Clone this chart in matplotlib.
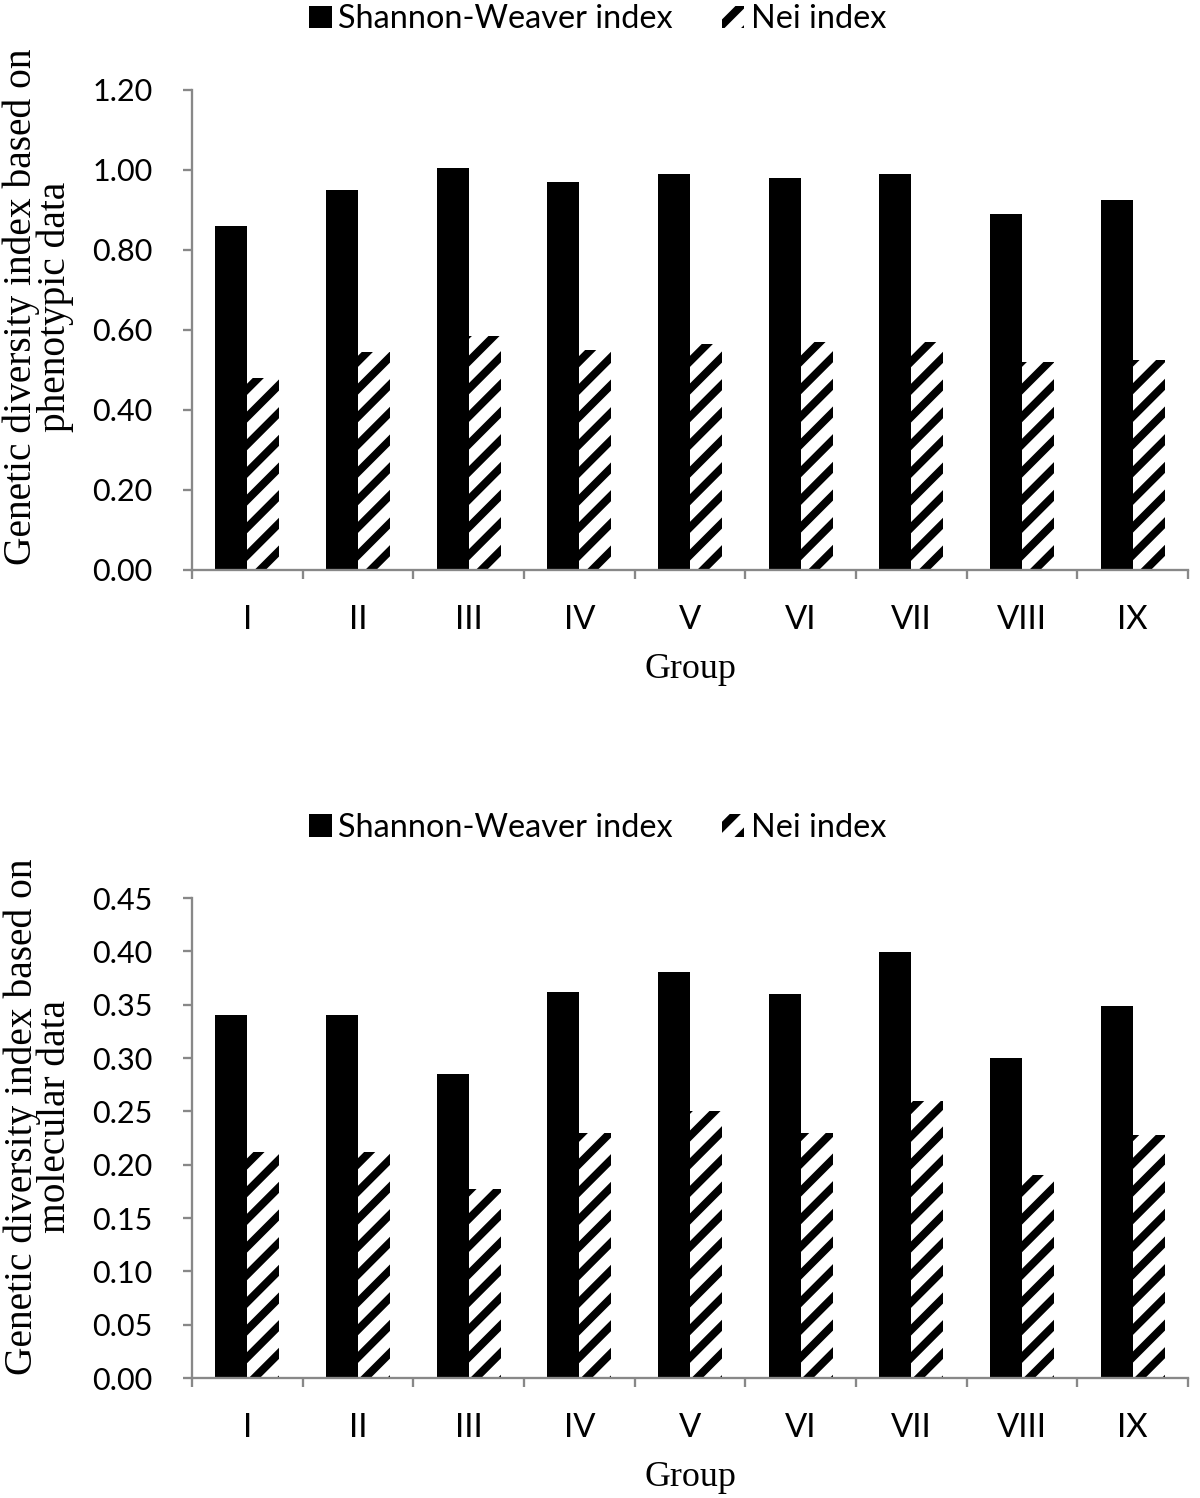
import numpy as np
import matplotlib.pyplot as plt

groups = ["I", "II", "III", "IV", "V", "VI", "VII", "VIII", "IX"]
pheno_shannon = [0.86, 0.95, 1.005, 0.97, 0.99, 0.98, 0.99, 0.89, 0.925]
pheno_nei = [0.48, 0.545, 0.585, 0.55, 0.565, 0.57, 0.57, 0.52, 0.525]
mol_shannon = [0.340, 0.340, 0.285, 0.362, 0.381, 0.360, 0.399, 0.300, 0.349]
mol_nei = [0.212, 0.212, 0.177, 0.230, 0.250, 0.230, 0.260, 0.190, 0.228]

plt.rcParams['hatch.linewidth'] = 3.4
sans = ['Lato', 'DejaVu Sans']
serif = ['Liberation Serif', 'DejaVu Serif']
axis_grey = '#888888'

dpi = 1200 / 7.2
fig = plt.figure(figsize=(7.2, 1498 / dpi), dpi=dpi)

panels = [
    (pheno_shannon, pheno_nei, [0.16, 0.6195, 0.83, 0.3205], 1.2, 0.2,
     "Genetic diversity index based on\nphenotypic data", 0.987, 0.548),
    (mol_shannon, mol_nei, [0.16, 0.0801, 0.83, 0.3204], 0.45, 0.05,
     "Genetic diversity index based on\nmolecular data", 0.4473, 0.544),
]

x = np.arange(len(groups))
w = 0.29
for sh, nei, rect, ymax, step, ylabel, leg_y, lab_y in panels:
    ax = fig.add_axes(rect)
    ax.bar(x - w / 2, sh, w, color='black', label='Shannon-Weaver index')
    ax.bar(x + w / 2, nei, w, color='white', edgecolor='black', hatch='//',
           linewidth=0, label='Nei index')
    ax.set_xlim(-0.5, len(groups) - 0.5)
    ax.set_ylim(0, ymax)
    yt = np.arange(0, ymax + step / 2, step)
    ax.set_yticks(yt)
    ax.set_yticklabels([f"{v:.2f}" for v in yt], family=sans, fontsize=13.2)
    ax.set_xticks(np.arange(-0.5, len(groups), 1.0))
    ax.set_xticklabels([])
    ax.set_xticks(x, minor=True)
    ax.set_xticklabels(groups, minor=True, family=sans, fontsize=14.2)
    ax.tick_params(axis='x', which='major', direction='out', length=4,
                   color=axis_grey, width=1)
    ax.tick_params(axis='x', which='minor', length=0, pad=15)
    ax.tick_params(axis='y', direction='out', length=4, color=axis_grey,
                   width=1, pad=13)
    for s in ['top', 'right']:
        ax.spines[s].set_visible(False)
    for s in ['left', 'bottom']:
        ax.spines[s].set_color(axis_grey)
        ax.spines[s].set_linewidth(1)
    ax.set_xlabel("Group", family=serif, fontsize=15.5, labelpad=8)
    ax.set_ylabel(ylabel, family=serif, fontsize=17, linespacing=0.88)
    ax.yaxis.set_label_coords(-0.118, lab_y)
    ax.legend(loc='center', bbox_to_anchor=(0.498, leg_y),
              bbox_transform=fig.transFigure, ncol=2, frameon=False,
              prop={'family': sans, 'size': 14.0}, handlelength=0.7,
              handleheight=0.7, handletextpad=0.2, columnspacing=1.5)

fig.savefig("out.png", dpi=dpi)
